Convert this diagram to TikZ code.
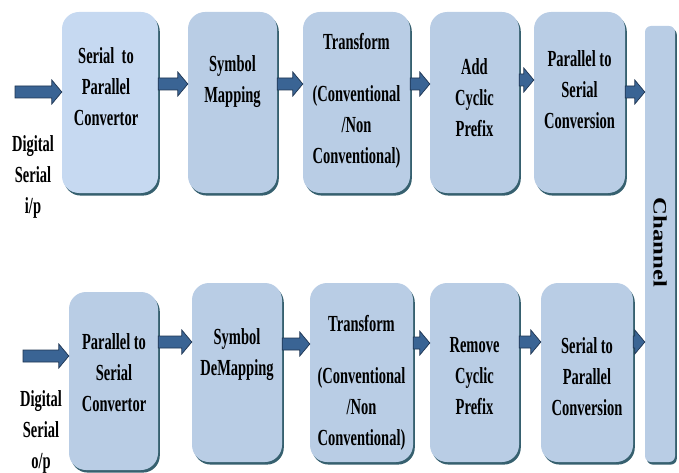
\documentclass[tikz,border=0pt]{standalone}
\usepackage{fontspec}
\usetikzlibrary{calc,shadows}
\newfontfamily\condserif{Liberation Serif}[FakeStretch=0.63]
\newfontfamily\wideserif{Liberation Serif}[FakeStretch=1.3]
\definecolor{boxblue}{HTML}{B9CDE5}
\definecolor{boxlight}{HTML}{C6D9F1}
\definecolor{edgeteal}{HTML}{36606F}
\definecolor{arrowblue}{HTML}{3A6494}
\definecolor{arrowedge}{HTML}{1E3552}

\tikzset{
  blk/.style={rounded corners=17pt, fill=boxblue, draw=none, inner sep=0pt,
    drop shadow={shadow xshift=1.8pt, shadow yshift=-2.6pt, fill=edgeteal, opacity=1}},
  txt/.style={font=\condserif\bfseries\fontsize{23}{31}\selectfont,
    align=center, inner sep=0pt, anchor=north},
  fatarrow/.style={fill=arrowblue, draw=arrowedge, line width=0.7pt, line join=miter,
    to path={let \p1=(\tikztostart), \p2=(\tikztotarget) in
      (\x1,\y1+6pt) -- (\x2-10pt,\y1+6pt) -- (\x2-10pt,\y1+12pt) -- (\x2,\y1)
      -- (\x2-10pt,\y1-12pt) -- (\x2-10pt,\y1-6pt) -- (\x1,\y1-6pt) -- cycle}}
}

\begin{document}
\begin{tikzpicture}[x=1pt, y=-1pt]
\useasboundingbox (0,0) rectangle (679,473);

% transmitter chain
\node[blk, fill=boxlight, minimum width=96pt, minimum height=181pt] (b1) at (110,102.5) {};
\node[blk, minimum width=89pt,  minimum height=181pt] (b2) at (232.5,102.5) {};
\node[blk, minimum width=107pt, minimum height=181pt] (b3) at (356.5,102.5) {};
\node[blk, minimum width=89pt,  minimum height=181pt] (b4) at (474.5,102.5) {};
\node[blk, minimum width=91pt,  minimum height=181pt] (b5) at (579.5,102.5) {};

% channel
\node[blk, rounded corners=6pt, minimum width=30pt, minimum height=436pt] (ch) at (660,244) {};
\node[rotate=-90, inner sep=0pt, font=\wideserif\bfseries\fontsize{19}{19}\selectfont] (chl) at (660,242.5) {Channel};

% receiver chain
\node[blk, minimum width=89pt,  minimum height=178pt] (c1) at (113.5,381) {};
\node[blk, minimum width=90pt,  minimum height=179pt] (c2) at (237,372.5) {};
\node[blk, minimum width=103pt, minimum height=179pt] (c3) at (361.5,372.5) {};
\node[blk, minimum width=89pt,  minimum height=179pt] (c4) at (474.5,372.5) {};
\node[blk, minimum width=92pt,  minimum height=179pt] (c5) at (587,372.5) {};

% block texts
\node[txt] (b1t) at (106,47) {Serial\ \ to\\Parallel\\Convertor};
\node[txt] (b2t) at (232.5,55) {Symbol\\Mapping};
\node[txt] (b3t) at (356.5,33) {Transform\\[21pt](Conventional\\/Non\\Conventional)};
\node[txt] (b4t) at (474.5,58) {Add\\Cyclic\\Prefix};
\node[txt] (b5t) at (579.5,50) {Parallel to\\Serial\\Conversion};

\node[txt] (c1t) at (114,333) {Parallel to\\Serial\\Convertor};
\node[txt] (c2t) at (237,328) {Symbol\\DeMapping};
\node[txt] (c3t) at (361.5,315) {Transform\\[21pt](Conventional\\/Non\\Conventional)};
\node[txt] (c4t) at (474.5,337) {Remove\\Cyclic\\Prefix};
\node[txt] (c5t) at (587,337) {Serial to\\Parallel\\Conversion};

% input / output labels
\node[txt] (inl) at (33,135) {Digital\\Serial\\i/p};
\node[txt] (outl) at (41,390) {Digital\\Serial\\o/p};

% block arrows
\coordinate (src) at (15,92);
\coordinate (snk) at (23,356);

\draw[fatarrow] (src) to (b1.west |- src);
\draw[fatarrow] (b1.east |- 0,84) to (b2.west |- 0,84);
\draw[fatarrow] (b2.east |- 0,84) to (b3.west |- 0,84);
\draw[fatarrow] (b3.east |- 0,84) to (b4.west |- 0,84);
\draw[fatarrow] (b4.east |- 0,80) to (b5.west |- 0,80);
\draw[fatarrow] (b5.east |- 0,92) to (ch.west |- 0,92);

\draw[fatarrow] (snk) to (c1.west |- snk);
\draw[fatarrow] (c1.east |- 0,342) to (c2.west |- 0,342);
\draw[fatarrow] (c2.east |- 0,344) to (c3.west |- 0,344);
\draw[fatarrow] (c3.east |- 0,343) to (c4.west |- 0,343);
\draw[fatarrow] (c4.east |- 0,342) to (c5.west |- 0,342);
\draw[fatarrow] (c5.east |- 0,342) to (ch.west |- 0,342);
\end{tikzpicture}
\end{document}
